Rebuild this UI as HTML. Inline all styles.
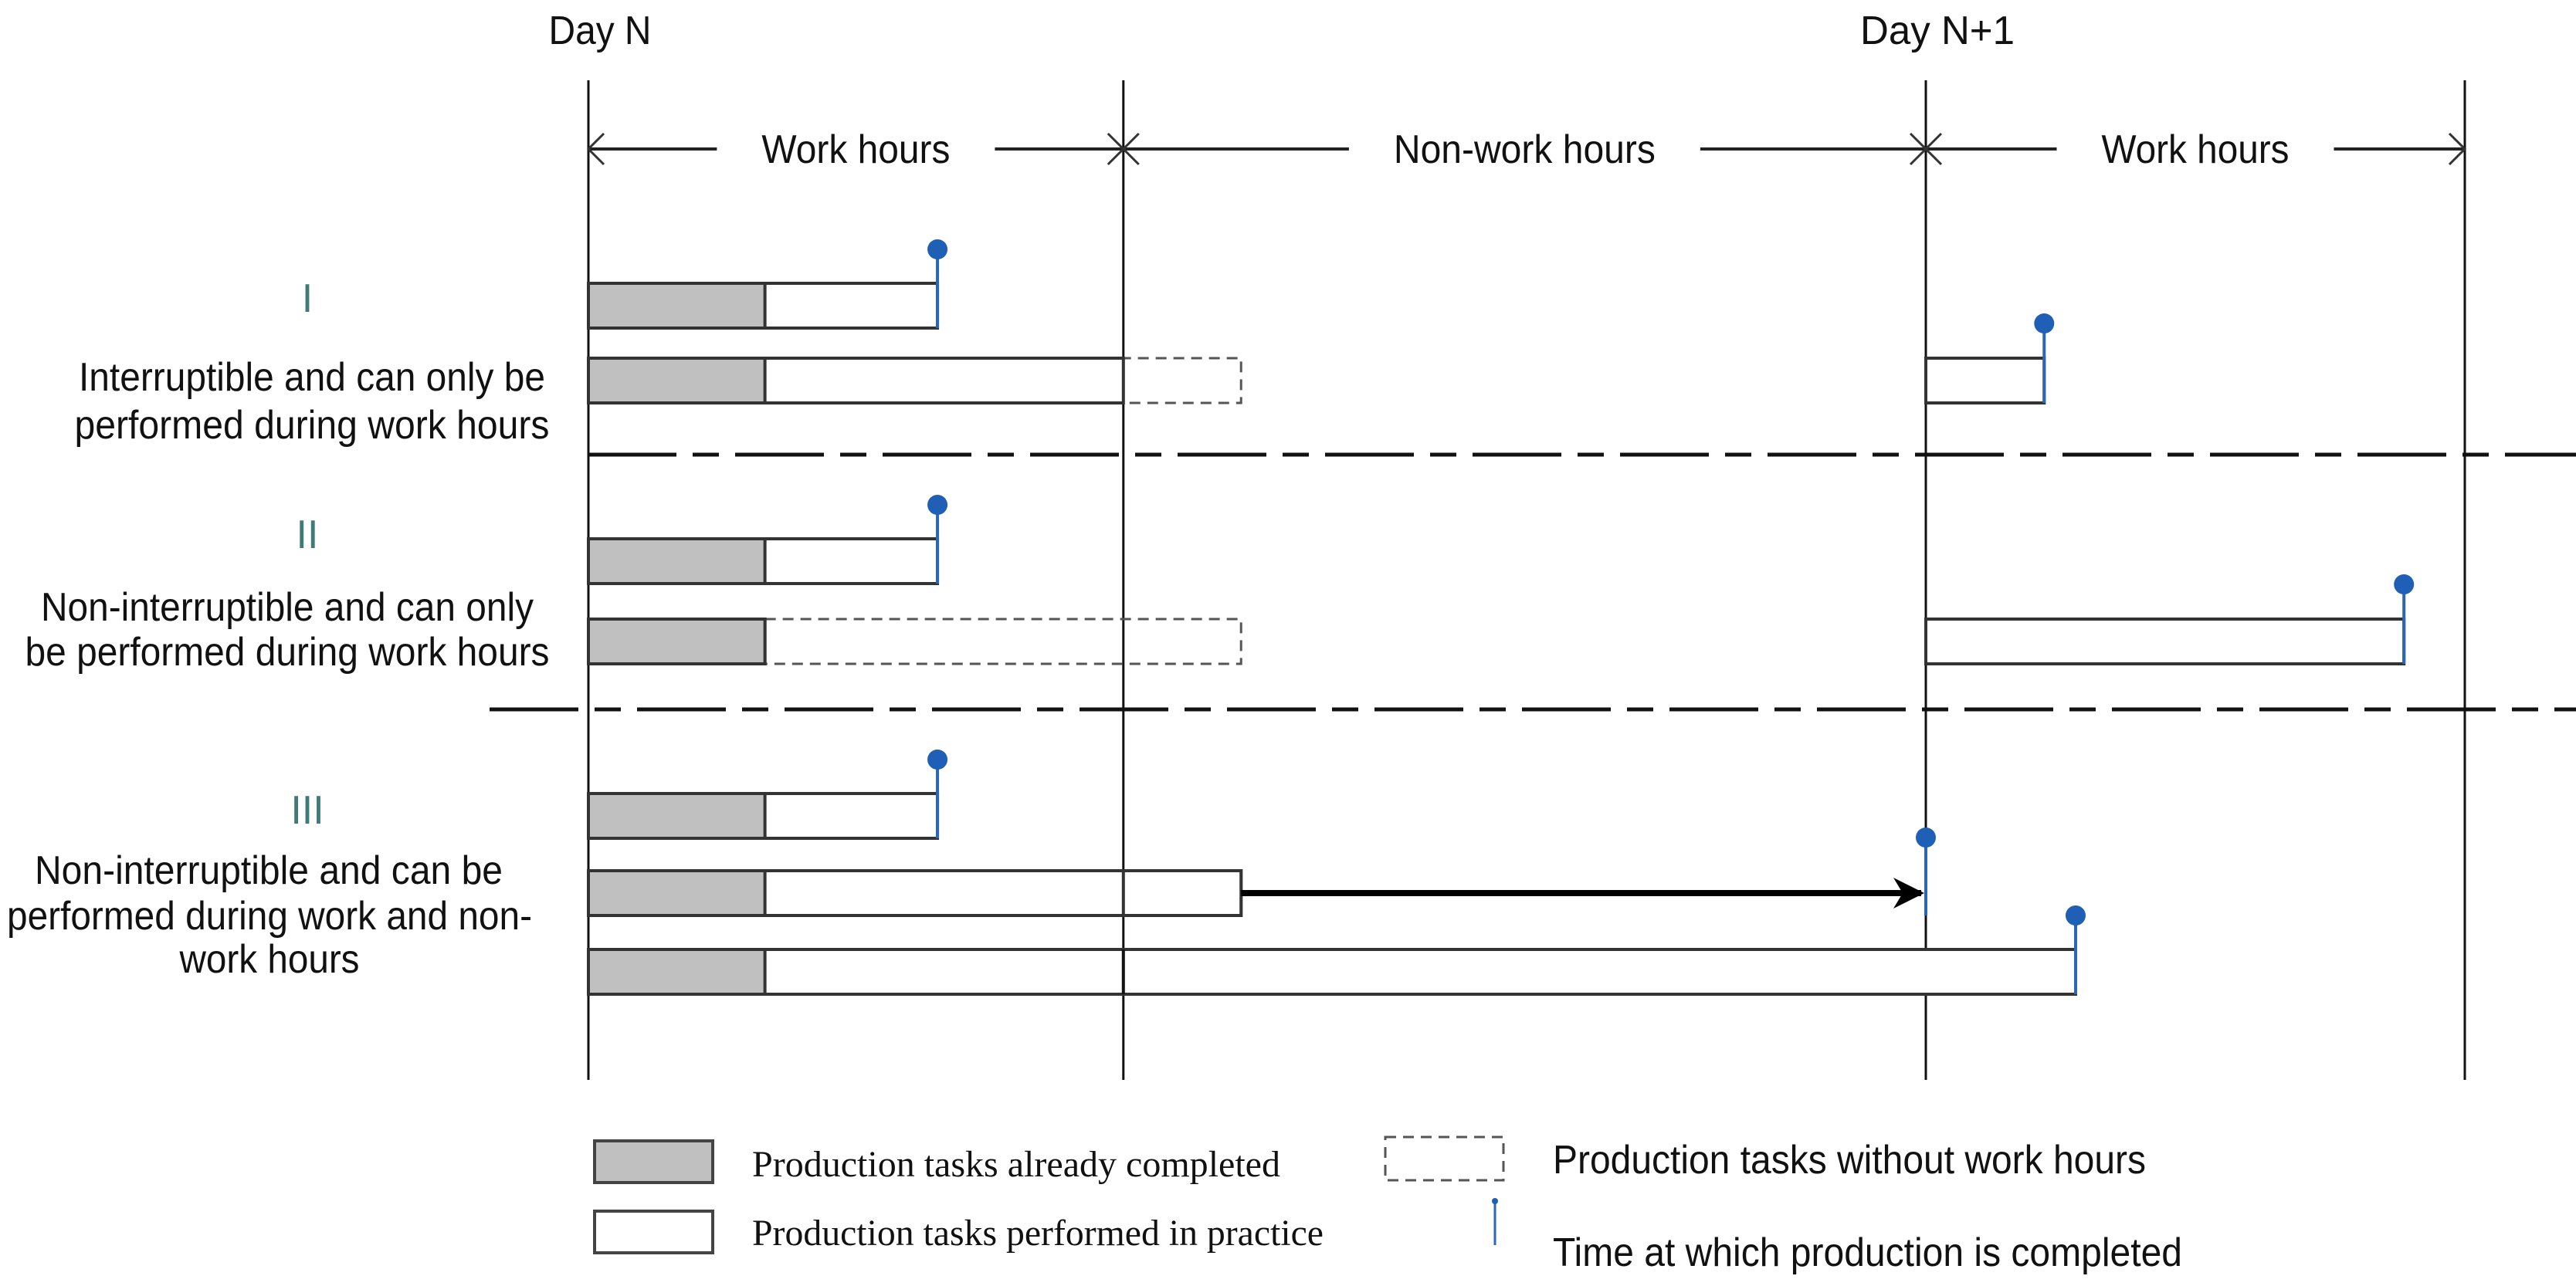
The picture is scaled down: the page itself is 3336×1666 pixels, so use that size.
<!DOCTYPE html>
<html><head><meta charset="utf-8"><style>
html,body{margin:0;padding:0;background:#fff;}
svg{display:block;}
.sans{font-family:"Liberation Sans",Arial,sans-serif;}
.serif{font-family:"Liberation Serif","Times New Roman",serif;}
</style></head>
<body>
<svg id="chart" width="3336" height="1666" viewBox="0 0 3336 1666" xmlns="http://www.w3.org/2000/svg">
<defs>
<marker id="ah" viewBox="0 0 10 10" refX="9" refY="5" markerWidth="5" markerHeight="5" orient="auto" markerUnits="strokeWidth"><path d="M0,0 L10,5 L0,10 L3,5 z" fill="#000"/></marker>
</defs>
<g id="grid"></g>
<g id="header"></g>
<g id="seps"></g>
<g id="bars"></g>
<g id="labels"></g>
<g id="legend"></g>
</svg>
<script>
// time boundaries (hours): day N start, work end, day N+1 start, work end
const boundaries = [0, 8, 20, 28.06];
const periodLabels = ["Work hours", "Non-work hours", "Work hours"];
const dayLabels = ["Day N", "Day N+1"];
const barRows = [0, 1, 2, 3, 4, 5, 6];
const barStart = [0, 0, 0, 0, 0, 0, 0];
const completedEnd = [2.64, 2.64, 2.64, 2.64, 2.64, 2.64, 2.64];
const performedEnd = [5.22, 8, 5.22, 2.64, 5.22, 9.76, 22.24];
const dashedEnd = [null, 9.76, null, 9.76, null, null, null];
const pinT = [5.22, null, 5.22, null, 5.22, 20, 22.24];
// day N+1 continuation bars
const contRow = [1, 3];
const contStart = [20, 20];
const contEnd = [21.77, 27.15];

const X0 = 762, PXH = 86.6;
function x(t){ return X0 + t*PXH; }
const rowTop = [367, 464, 698, 802, 1028, 1128, 1230];
const BH = 58;
const NS = "http://www.w3.org/2000/svg";
function el(tag, attrs, parent, text){
  const e = document.createElementNS(NS, tag);
  for (const k in attrs) e.setAttribute(k, attrs[k]);
  if (text !== undefined) e.textContent = text;
  parent.appendChild(e);
  return e;
}
const G = id => document.getElementById(id);

boundaries.forEach((b,i)=>{
  const l = el('line',{x1:x(b),x2:x(b),y1:104,y2:1399,stroke:'#111','stroke-width':3},G('grid'));
  
  
});
[[0,0],[1,2]].forEach(([li,bi])=>{
  const t = el('text',{x:x(boundaries[bi])+15,y:57,'text-anchor':'middle','font-size':52,class:'sans',fill:'#111',textLength:li?200:133,lengthAdjust:'spacingAndGlyphs'},G('header'),dayLabels[li]);
  
  
});
const HY = 193;
const labelW = [244, 339, 243];
for (let i=0;i<3;i++){
  const a = x(boundaries[i]), b = x(boundaries[i+1]), c = (a+b)/2;
  const w = labelW[i];
  el('line',{x1:a,x2:c-w/2-58,y1:HY,y2:HY,stroke:'#222','stroke-width':4},G('header'));
  el('line',{x1:c+w/2+58,x2:b,y1:HY,y2:HY,stroke:'#222','stroke-width':4},G('header'));
  el('path',{d:`M${a+20},${HY-20} L${a},${HY} L${a+20},${HY+20}`,fill:'none',stroke:'#333','stroke-width':3},G('header'));
  el('path',{d:`M${b-20},${HY-20} L${b},${HY} L${b-20},${HY+20}`,fill:'none',stroke:'#333','stroke-width':3},G('header'));
  const t = el('text',{x:c,y:HY+18,'text-anchor':'middle','font-size':52,class:'sans',fill:'#111',textLength:w,lengthAdjust:'spacingAndGlyphs'},G('header'),periodLabels[i]);
  
  
}
[[761,589],[634,919]].forEach(([sx,sy])=>{
  const l = el('line',{x1:sx,x2:3336,y1:sy,y2:sy,stroke:'#111','stroke-width':5,'stroke-dasharray':'115 21 34 21'},G('seps'));
  
  
});
function pin(px, top, bottom, g){
  el('line',{x1:px,x2:px,y1:top,y2:bottom,stroke:'#2b67b8','stroke-width':4},g);
  el('circle',{cx:px,cy:top,r:13,fill:'#1f5fb5'},g);
}
barRows.forEach((r,i)=>{
  const g = el('g',{},G('bars'));
  
  
  const y = rowTop[r];
  if (dashedEnd[i]!==null){
    el('rect',{x:x(completedEnd[i]),y:y,width:x(dashedEnd[i])-x(completedEnd[i]),height:BH,fill:'none',stroke:'#555','stroke-width':3,'stroke-dasharray':'14 9'},g);
  }
  el('rect',{x:x(barStart[i]),y:y,width:x(performedEnd[i])-x(barStart[i]),height:BH,fill:'#fff',stroke:'#333','stroke-width':4},g);
  el('rect',{x:x(barStart[i]),y:y,width:x(completedEnd[i])-x(barStart[i]),height:BH,fill:'#c0c0c0',stroke:'#333','stroke-width':4},g);
  if (i===5){
    el('rect',{x:x(8),y:y,width:x(9.76)-x(8),height:BH,fill:'#fff',stroke:'#333','stroke-width':4},g);
    el('line',{x1:x(9.76),x2:x(20)-6,y1:y+BH/2,y2:y+BH/2,stroke:'#000','stroke-width':8,'marker-end':'url(#ah)'},g);
  }
  if (i===6){ el('line',{x1:x(8),x2:x(8),y1:y,y2:y+BH,stroke:'#111','stroke-width':4},g); }
  if (pinT[i]!==null){
    const top = (i===5)? y-43 : y-44;
    pin(x(pinT[i]), top, y+BH, g);
  }
});
contRow.forEach((r,i)=>{
  const g = el('g',{},G('bars'));
  
  
  const y = rowTop[r];
  el('rect',{x:x(contStart[i]),y:y,width:x(contEnd[i])-x(contStart[i]),height:BH,fill:'#fff',stroke:'#333','stroke-width':4},g);
  pin(x(contEnd[i]), y-45, y+BH, g);
});
const labelSpec = [
  ["I",398,404,"#3f7a78"],["Interruptible and can only be",404,506,"#111",604],["performed during work hours",404,568,"#111",615],
  ["II",398,710,"#3f7a78"],["Non-interruptible and can only",372,804,"#111",638],["be performed during work hours",372,862,"#111",679],
  ["III",398,1067,"#3f7a78"],["Non-interruptible and can be",348,1145,"#111",606],["performed during work and non-",349,1204,"#111",680],["work hours",349,1260,"#111",233]
];
labelSpec.forEach(s=>{
  const a = {x:s[1],y:s[2],'text-anchor':'middle','font-size':52,class:'sans',fill:s[3]};
  if (s[4]){ a.textLength=s[4]; a.lengthAdjust='spacingAndGlyphs'; }
  const t = el('text',a,G('labels'),s[0]);
  
  
});
const L = G('legend');
el('rect',{x:770,y:1478,width:153,height:54,fill:'#c0c0c0',stroke:'#444','stroke-width':4},L);
el('rect',{x:770,y:1569,width:153,height:54,fill:'#fff',stroke:'#444','stroke-width':4},L);
el('rect',{x:1794,y:1473,width:153,height:56,fill:'none',stroke:'#555','stroke-width':3,'stroke-dasharray':'14 9'},L);
el('line',{x1:1936,x2:1936,y1:1556,y2:1613,stroke:'#2b67b8','stroke-width':3},L);
el('circle',{cx:1936,cy:1556,r:4,fill:'#1f5fb5'},L);
[["Production tasks already completed",974,1524,684,'serif'],["Production tasks performed in practice",974,1613,740,'serif'],
 ["Production tasks without work hours",2011,1520,768,'sans'],["Time at which production is completed",2011,1640,815,'sans']].forEach(s=>{
  const t = el('text',{x:s[1],y:s[2],'font-size':s[4]==='serif'?48:52,class:s[4],fill:'#111',textLength:s[3],lengthAdjust:'spacingAndGlyphs'},L,s[0]);
  
  
});
</script>
</body></html>
